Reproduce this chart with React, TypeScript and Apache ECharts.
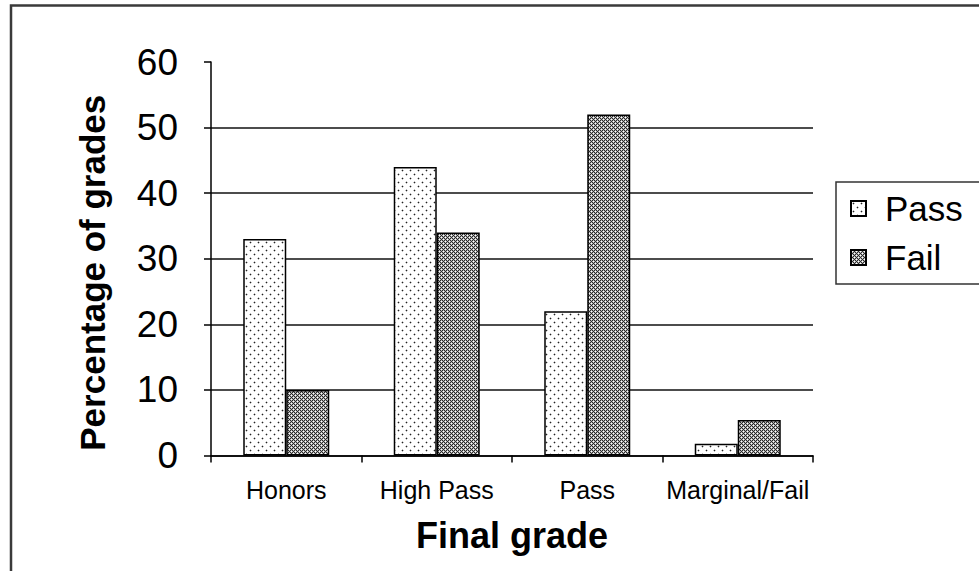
import React, { useEffect, useRef } from 'react';
import * as echarts from 'echarts';

const categories = ['Honors', 'High Pass', 'Pass', 'Marginal/Fail'];
const passValues = [33, 44, 22, 1.8];
const failValues = [10, 34, 52, 5.4];
const seriesNames = ['Pass', 'Fail'];
const yMin = 0;
const yMax = 60;
const yStep = 10;

const FONT = "'Liberation Sans', Arial, Helvetica, sans-serif";

function makeDots(): HTMLCanvasElement {
  const c = document.createElement('canvas');
  c.width = 8;
  c.height = 8;
  const g = c.getContext('2d')!;
  g.fillStyle = '#ffffff';
  g.fillRect(0, 0, 8, 8);
  const dot = (x: number, y: number) => {
    g.fillStyle = '#c0c0c0';
    g.fillRect(x - 1, y, 1, 1);
    g.fillRect(x + 1, y, 1, 1);
    g.fillRect(x, y - 1, 1, 1);
    g.fillRect(x, y + 1, 1, 1);
    g.fillStyle = '#222';
    g.fillRect(x, y, 1, 1);
  };
  dot(2, 2);
  dot(6, 6);
  return c;
}

function makeHatch(): HTMLCanvasElement {
  const c = document.createElement('canvas');
  c.width = 4;
  c.height = 4;
  const g = c.getContext('2d')!;
  g.fillStyle = '#2a2a2a';
  g.fillRect(0, 0, 4, 4);
  g.fillStyle = '#b4b4b4';
  [[0, 1], [2, 1], [1, 0], [1, 2], [2, 3], [0, 3], [3, 2], [3, 0]].forEach(([x, y]) => g.fillRect(x, y, 1, 1));
  g.fillStyle = '#ffffff';
  g.fillRect(1, 1, 1, 1);
  g.fillRect(3, 3, 1, 1);
  return c;
}

export default function App() {
  const ref = useRef<HTMLDivElement>(null);
  useEffect(() => {
    if (!ref.current) return;
    const chart = echarts.init(ref.current, undefined, { renderer: 'svg' });
    const dots = makeDots();
    const hatch = makeHatch();
    const patterns = [
      { image: dots, repeat: 'repeat' },
      { image: hatch, repeat: 'repeat' },
    ];
    const values = [passValues, failValues];
    chart.setOption({
      animation: false,
      backgroundColor: '#ffffff',
      grid: { left: 211, right: 166, top: 62, bottom: 115.5, containLabel: false },
      legend: {
        orient: 'vertical',
        left: 836,
        top: 182,
        data: seriesNames,
        borderColor: '#333',
        borderWidth: 1.5,
        padding: [9, 60, 9, 14],
        itemWidth: 15,
        itemHeight: 15,
        itemGap: 14,
        icon: 'rect',
        textStyle: { fontSize: 35, fontFamily: FONT, color: '#000', padding: [0, 0, 0, 14] },
      },
      xAxis: {
        type: 'category',
        data: categories,
        axisLine: { show: true, lineStyle: { color: '#000', width: 1.5 } },
        axisTick: { show: true, length: 7, alignWithLabel: false, interval: 0, lineStyle: { color: '#000', width: 1.5 } },
        axisLabel: { interval: 0, fontSize: 25, margin: 22, color: '#000', fontFamily: FONT },
        splitLine: { show: false },
        name: 'Final grade',
        nameLocation: 'middle',
        nameGap: 62,
        nameTextStyle: { fontSize: 36, fontWeight: 'bold', color: '#000', fontFamily: FONT },
      },
      yAxis: {
        type: 'value',
        min: yMin,
        max: yMax,
        interval: yStep,
        axisLine: { show: true, lineStyle: { color: '#000', width: 1.5 } },
        axisTick: { show: true, length: 7, lineStyle: { color: '#000', width: 1.5 } },
        axisLabel: { fontSize: 37, margin: 33, color: '#000', fontFamily: FONT },
        splitLine: { show: true, showMaxLine: false, lineStyle: { color: '#111', width: 1.5 } },
        name: 'Percentage of grades',
        nameLocation: 'middle',
        nameGap: 101,
        nameTextStyle: {
          fontSize: 35,
          fontWeight: 'bold',
          color: '#000',
          fontFamily: FONT,
          padding: [0, 28, 0, 0],
        },
      },
      series: seriesNames.map((name, i) => ({
        name,
        type: 'bar',
        data: values[i],
        barWidth: 43,
        barGap: '0%',
        itemStyle: { color: patterns[i], borderColor: '#000', borderWidth: 1.5 },
      })),
      graphic: [
        {
          type: 'rect',
          shape: { x: 11, y: 5.5, width: 1000, height: 600 },
          style: { fill: 'none', stroke: '#3a3a3a', lineWidth: 2.5 },
          silent: true,
          z: 100,
        },
      ],
    });
    return () => chart.dispose();
  }, []);
  return (
    <div
      ref={ref}
      style={{ position: 'fixed', left: 0, top: 0, width: 979, height: 571, background: '#fff' }}
    />
  );
}
